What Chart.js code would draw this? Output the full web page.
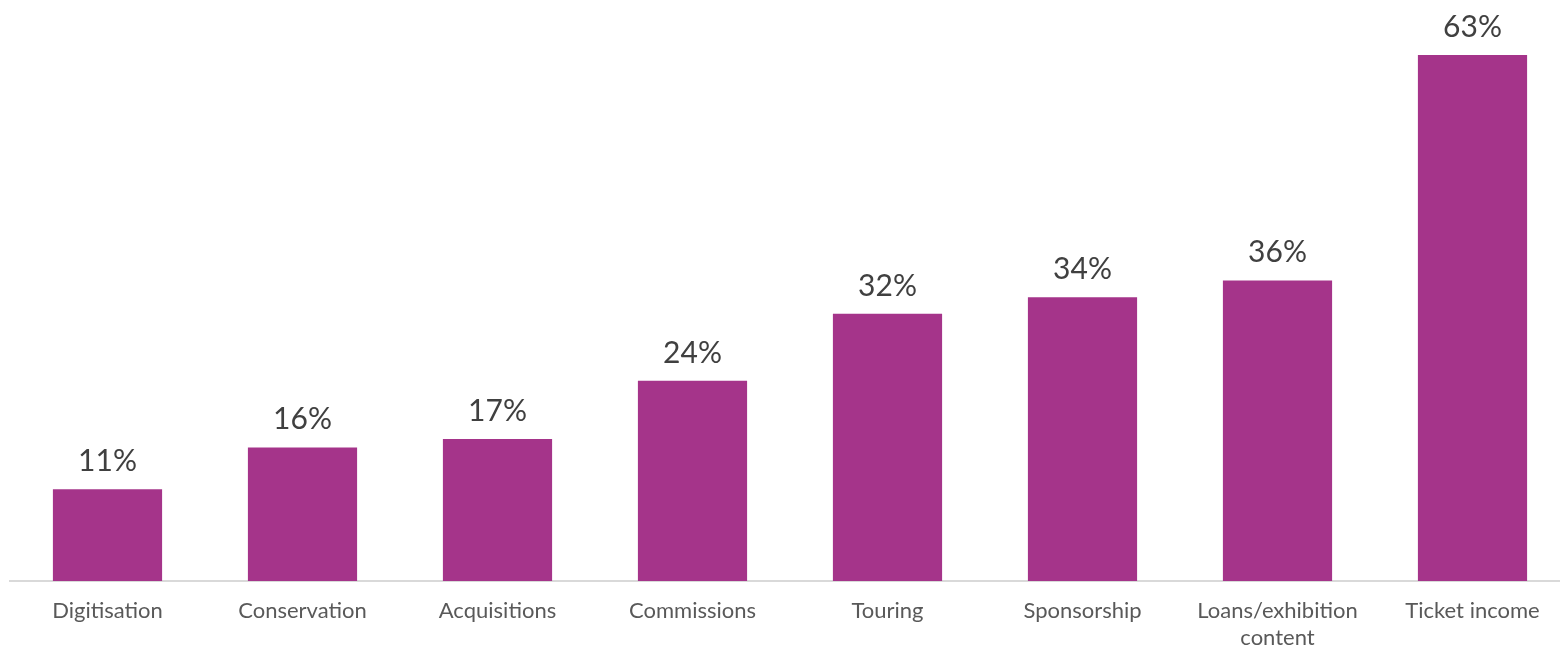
<!DOCTYPE html>
<html>
<head>
<meta charset="utf-8">
<script src="https://cdn.jsdelivr.net/npm/chart.js@4.4.1/dist/chart.umd.min.js"></script>
<style>
  html, body { margin: 0; padding: 0; background: #fff; overflow: hidden; }
  #wrap { width: 1574px; height: 651px; }
</style>
</head>
<body>
<div id="wrap"><canvas id="chart" width="1574" height="651"></canvas></div>
<script>
// Chart data
const categories = [
  'Digitisation', 'Conservation', 'Acquisitions', 'Commissions',
  'Touring', 'Sponsorship', ['Loans/exhibition', 'content'], 'Ticket income'
];
const shares = [11, 16, 17, 24, 32, 34, 36, 63];

const barColor = '#A5348A';
const fontFamily = 'Lato, "Open Sans", sans-serif';

// draws the % labels above each bar
const valueLabels = {
  id: 'valueLabels',
  afterDatasetsDraw(chart) {
    const ctx = chart.ctx;
    const meta = chart.getDatasetMeta(0);
    ctx.save();
    ctx.font = '30px ' + fontFamily;
    ctx.fillStyle = '#404040';
    ctx.textAlign = 'center';
    ctx.textBaseline = 'alphabetic';
    meta.data.forEach((bar, i) => {
      ctx.fillText(shares[i] + '%', bar.x, bar.y - 18);
    });
    ctx.restore();
  }
};

new Chart(document.getElementById('chart').getContext('2d'), {
  type: 'bar',
  data: {
    labels: categories,
    datasets: [{
      data: shares,
      backgroundColor: barColor,
      categoryPercentage: 1,
      barPercentage: 0.56
    }]
  },
  options: {
    responsive: false,
    animation: false,
    layout: { padding: { top: 30, left: 10, right: 4, bottom: -17 } },
    plugins: {
      legend: { display: false },
      tooltip: { enabled: false }
    },
    scales: {
      x: {
        grid: { display: false, drawTicks: false },
        border: { display: true, color: '#D9D9D9', width: 2 },
        ticks: {
          color: '#595959',
          font: { family: fontFamily, size: 22, lineHeight: 1.25 },
          padding: 16,
          maxRotation: 0,
          autoSkip: false
        }
      },
      y: {
        display: false,
        min: 0,
        max: 66
      }
    }
  },
  plugins: [valueLabels]
});
</script>
</body>
</html>
